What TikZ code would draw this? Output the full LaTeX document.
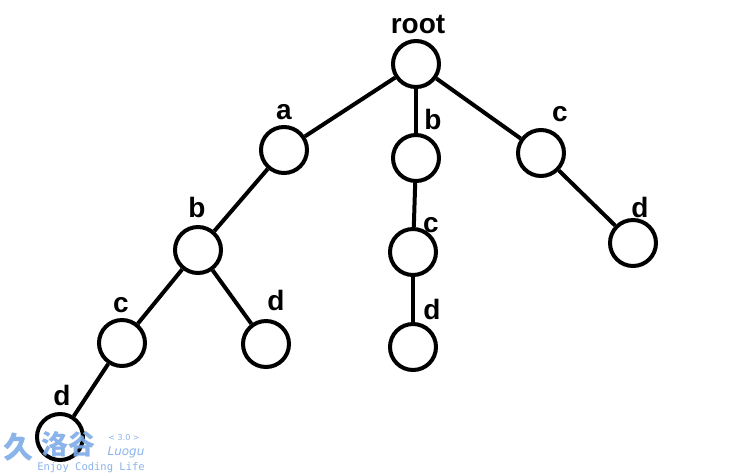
\documentclass[tikz,border=0pt]{standalone}
\usepackage{fontspec}
\setmainfont{Liberation Sans}
\newfontfamily\cjkfont{Noto Sans CJK SC}
\newfontfamily\wmmono{DejaVu Sans Mono}
\newfontfamily\wmsans{DejaVu Sans}
\definecolor{wmblue}{HTML}{7EABE8}
\begin{document}
\begin{tikzpicture}[x=1pt,y=-1pt,
  tnode/.style={circle,draw=black,line width=4pt,minimum size=46pt,inner sep=0pt},
  tedge/.style={line width=4pt,draw=black},
  tlabel/.style={anchor=base,inner sep=0pt,font=\fontsize{28}{30}\selectfont\bfseries},
  wm/.style={text=wmblue,inner sep=0pt,opacity=0.9}]
\useasboundingbox (0,0) rectangle (746,475);
\fill[white] (0,0) rectangle (746,475);
% nodes
\node[tnode] (root) at (416,64) {};
\node[tnode] (a)  at (284,150) {};
\node[tnode] (b2) at (416,158) {};
\node[tnode] (c3) at (541,153) {};
\node[tnode] (b1) at (198,250) {};
\node[tnode] (c2) at (413,252) {};
\node[tnode] (d3) at (633,243) {};
\node[tnode] (c1) at (122,343) {};
\node[tnode] (db) at (266,344) {};
\node[tnode] (d2) at (413,347) {};
\node[tnode] (d1) at (60,437) {};
% edges
\draw[tedge] (root) -- (a);
\draw[tedge] (root) -- (b2);
\draw[tedge] (root) -- (c3);
\draw[tedge] (a) -- (b1);
\draw[tedge] (b2) -- (c2);
\draw[tedge] (c3) -- (d3);
\draw[tedge] (b1) -- (c1);
\draw[tedge] (b1) -- (db);
\draw[tedge] (c2) -- (d2);
\draw[tedge] (c1) -- (d1);
% labels
\node[tlabel] (lroot) at (418,33) {root};
\node[tlabel] (la)  at (284,119) {a};
\node[tlabel] (lb2) at (433,129) {b};
\node[tlabel] (lc3) at (560,121) {c};
\node[tlabel] (lb1) at (197,217) {b};
\node[tlabel] (lc2) at (431,232) {c};
\node[tlabel] (ld3) at (640,217) {d};
\node[tlabel] (lc1) at (121,312) {c};
\node[tlabel] (ldb) at (276,310) {d};
\node[tlabel] (ld2) at (432,319) {d};
\node[tlabel] (ld1) at (62,405) {d};
% watermark
\node[wm,anchor=center,font=\cjkfont\bfseries\fontsize{30}{30}\selectfont] (wlogo) at (18,447) {久};
\node[wm,anchor=center,font=\cjkfont\bfseries\fontsize{27}{27}\selectfont] (wname) at (68,444) {洛谷};
\node[wm,anchor=center,font=\wmsans\fontsize{8}{8}\selectfont] (wver) at (124,438) {< 3.0 >};
\node[wm,anchor=center,font=\wmsans\itshape\fontsize{12}{12}\selectfont] (wluogu) at (126,452) {Luogu};
\node[wm,anchor=center,font=\wmmono\fontsize{10.5}{10.5}\selectfont] (wtag) at (91,468) {Enjoy Coding Life};
\end{tikzpicture}
\end{document}
